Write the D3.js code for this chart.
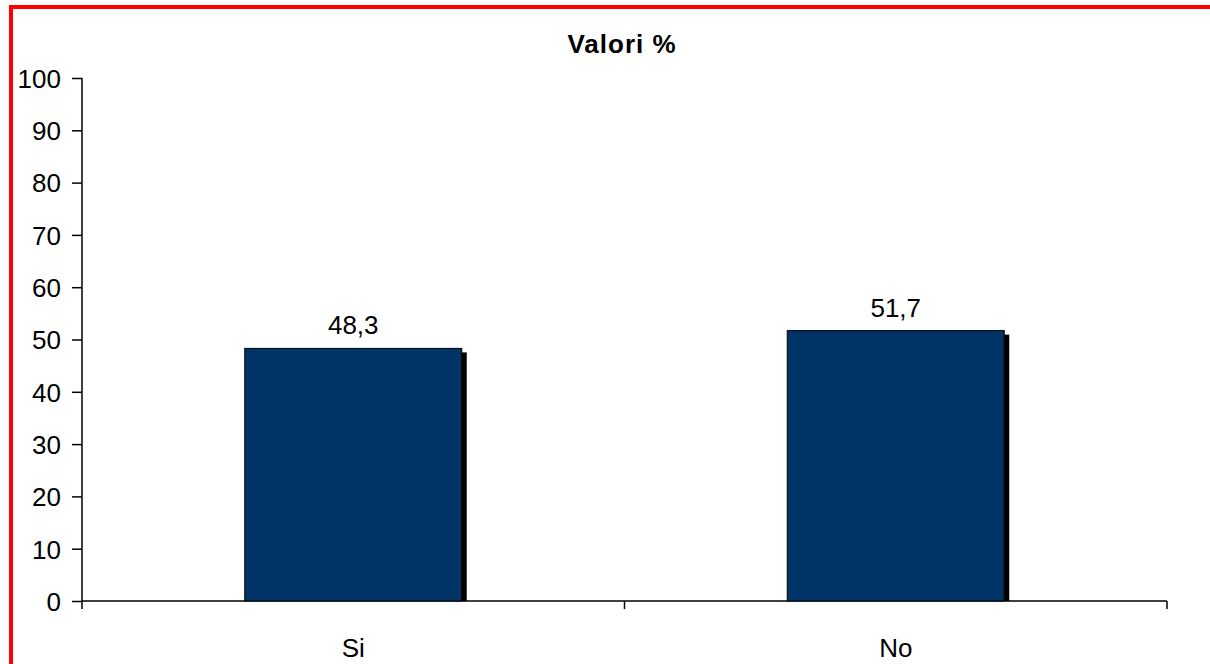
<!DOCTYPE html>
<html>
<head>
<meta charset="utf-8">
<script src="https://cdn.jsdelivr.net/npm/d3@7"></script>
<style>
  html, body { margin: 0; padding: 0; background: #fff; }
  svg { display: block; }
  text { font-family: Arial, "Liberation Sans", sans-serif; fill: #000; }
</style>
</head>
<body>
<svg id="chart" width="1210" height="664"></svg>
<script>
// Chart data
const categories = ["Si", "No"];
const values = [48.3, 51.7];
const valueLabels = ["48,3", "51,7"];
const yTicks = [0, 10, 20, 30, 40, 50, 60, 70, 80, 90, 100];
const title = "Valori %";

const svg = d3.select("#chart");
const W = 1210, H = 664;
const FONT = "Arial, 'Liberation Sans', sans-serif";

// Red frame around the chart area
svg.append("rect")
  .attr("x", 11).attr("y", 7)
  .attr("width", W + 20).attr("height", H + 20)
  .attr("fill", "#fff")
  .attr("stroke", "#ff0000")
  .attr("stroke-width", 4);

const plot = { left: 82, right: 1167, top: 78, bottom: 601 };

const x = d3.scaleBand()
  .domain(categories)
  .range([plot.left, plot.right])
  .paddingInner(0.6)
  .paddingOuter(0.3);

const y = d3.scaleLinear()
  .domain([0, 100])
  .range([plot.bottom, plot.top]);

// Title
svg.append("text")
  .attr("x", 622).attr("y", 53)
  .attr("text-anchor", "middle")
  .attr("font-size", 26)
  .attr("font-weight", "bold")
  .attr("letter-spacing", 1)
  .text(title);

// Y axis
const yAxis = svg.append("g")
  .attr("transform", `translate(${plot.left},0)`)
  .call(d3.axisLeft(y).tickValues(yTicks).tickSize(10).tickPadding(11).tickFormat(d3.format("d")));
yAxis.attr("font-family", FONT).attr("font-size", 26);
yAxis.select(".domain").attr("stroke", "#000").attr("stroke-width", 1.5)
  .attr("d", `M0,${plot.bottom}V${plot.top}`);
yAxis.selectAll(".tick line").attr("stroke", "#000").attr("stroke-width", 1.5);
yAxis.selectAll(".tick text").attr("fill", "#000").attr("dy", "0.36em");

// X axis: ticks at category boundaries
const xEdges = [plot.left, (plot.left + plot.right) / 2, plot.right];
const xAxisG = svg.append("g");
xAxisG.append("line")
  .attr("x1", plot.left).attr("x2", plot.right)
  .attr("y1", plot.bottom).attr("y2", plot.bottom)
  .attr("stroke", "#000").attr("stroke-width", 1.5);
xAxisG.selectAll("line.tick")
  .data(xEdges)
  .join("line")
  .attr("class", "tick")
  .attr("x1", d => d).attr("x2", d => d)
  .attr("y1", plot.bottom).attr("y2", plot.bottom + 8)
  .attr("stroke", "#000").attr("stroke-width", 1.5);
xAxisG.selectAll("text")
  .data(categories)
  .join("text")
  .attr("x", d => x(d) + x.bandwidth() / 2)
  .attr("y", 657)
  .attr("text-anchor", "middle")
  .attr("font-size", 26)
  .text(d => d);

const data = categories.map((c, i) => ({ c, v: values[i], label: valueLabels[i] }));

// Bar shadows
svg.selectAll("rect.shadow")
  .data(data)
  .join("rect")
  .attr("class", "shadow")
  .attr("x", d => x(d.c) + 5)
  .attr("y", d => y(d.v) + 4)
  .attr("width", x.bandwidth())
  .attr("height", d => plot.bottom - y(d.v) - 4)
  .attr("fill", "#000");

// Bars
svg.selectAll("rect.bar")
  .data(data)
  .join("rect")
  .attr("class", "bar")
  .attr("x", d => x(d.c))
  .attr("y", d => y(d.v))
  .attr("width", x.bandwidth())
  .attr("height", d => plot.bottom - y(d.v))
  .attr("fill", "#003366")
  .attr("stroke", "#000")
  .attr("stroke-width", 1);

// Value labels
svg.selectAll("text.val")
  .data(data)
  .join("text")
  .attr("class", "val")
  .attr("x", d => x(d.c) + x.bandwidth() / 2)
  .attr("y", d => y(d.v) - 14)
  .attr("text-anchor", "middle")
  .attr("font-size", 26)
  .text(d => d.label);
</script>
</body>
</html>
